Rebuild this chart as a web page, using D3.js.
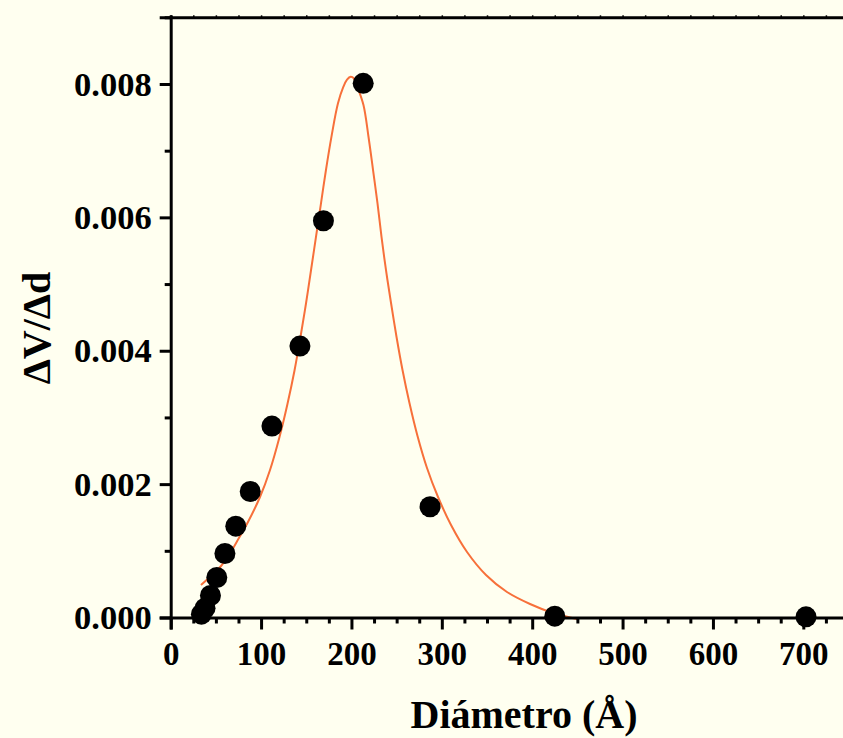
<!DOCTYPE html>
<html>
<head>
<meta charset="utf-8">
<script src="https://cdn.jsdelivr.net/npm/d3@7"></script>
<style>
  html, body { margin: 0; padding: 0; background: #FFFFF0; }
  svg { display: block; }
</style>
</head>
<body>
<svg id="chart" width="843" height="738"></svg>
<script>
// Measured points: diameter (Å) and ΔV/Δd
const diameter = [34, 38, 44, 51, 60, 72, 88, 112, 143, 169, 213, 287, 425, 703];
const dVdd     = [0.00005, 0.00014, 0.00033, 0.0006, 0.00096, 0.00137, 0.00189, 0.00287, 0.00407, 0.00595, 0.00801, 0.00166, 0.00002, 0.00001];

// Fitted curve (diameter in Å, ΔV/Δd in units of 0.001)
const fitX = [33.5, 44.6, 55.7, 64.5, 73.0, 85.5, 98.8, 109.9, 120.4, 129.2, 137.0, 143.6, 149.7, 155.3, 160.8, 166.3, 171.8, 177.9, 185.1, 191.0, 195.1, 199.2, 202.8, 206.5, 213.3, 218.9, 223.9, 228.8, 233.3, 238.2, 243.8, 249.9, 256.5, 264.2, 273.1, 283.6, 295.8, 310.2, 327.9, 348.9, 372.1, 397.6, 423.0, 450.7];
const fitY = [0.487, 0.622, 0.772, 0.937, 1.132, 1.432, 1.807, 2.212, 2.707, 3.201, 3.704, 4.206, 4.708, 5.211, 5.710, 6.211, 6.710, 7.210, 7.710, 7.955, 8.067, 8.109, 8.082, 7.959, 7.685, 7.205, 6.710, 6.215, 5.705, 5.211, 4.716, 4.206, 3.711, 3.216, 2.722, 2.242, 1.807, 1.387, 0.982, 0.637, 0.382, 0.202, 0.067, -0.027];

const xMajor = [0, 100, 200, 300, 400, 500, 600, 700];
const yMajor = [0, 0.002, 0.004, 0.006, 0.008];

const svg = d3.select("#chart");
const x = d3.scaleLinear().domain([0, 750]).range([170.7, 848.5]);
const y = d3.scaleLinear().domain([0, 0.009]).range([617.5, 17.3]);

const FONT = "'Liberation Serif', 'Times New Roman', serif";

// Curve
const line = d3.line().x(d => x(d[0])).y(d => y(d[1] / 1000)).curve(d3.curveCatmullRom.alpha(0.5));
svg.append("path")
  .datum(fitX.map((v, i) => [v, fitY[i]]))
  .attr("d", line)
  .attr("fill", "none")
  .attr("stroke", "#F7703A")
  .attr("stroke-width", 2);

// Points
svg.append("g").selectAll("circle")
  .data(diameter.map((v, i) => [v, dVdd[i]]))
  .join("circle")
  .attr("cx", d => x(d[0]))
  .attr("cy", d => y(d[1]))
  .attr("r", 10.5)
  .attr("fill", "#000");

// X axis (bottom)
const xMinor = d3.range(0, 751, 25).filter(v => v % 100 !== 0);
const gx = svg.append("g").attr("transform", `translate(0,${y(0)})`);
gx.call(d3.axisBottom(x).tickValues(xMinor).tickSize(6).tickFormat(""))
  .call(g => g.select(".domain").remove());
gx.append("g").call(d3.axisBottom(x).tickValues(xMajor).tickSize(12).tickPadding(12).tickFormat(d3.format("d")));
gx.selectAll("line").attr("stroke", "#000").attr("stroke-width", 3);
gx.selectAll(".domain").attr("stroke", "#000").attr("stroke-width", 3);
gx.selectAll("text").attr("font-family", FONT).attr("font-weight", "bold").attr("font-size", 33).attr("fill", "#000");

// Y axis (left)
const yMinor = [0.001, 0.003, 0.005, 0.007, 0.009];
const gy = svg.append("g").attr("transform", `translate(${x(0)},0)`);
gy.call(d3.axisLeft(y).tickValues(yMinor).tickSize(6).tickFormat(""))
  .call(g => g.select(".domain").remove());
gy.append("g").call(d3.axisLeft(y).tickValues(yMajor).tickSize(11).tickPadding(8).tickFormat(d3.format(".3f")));
gy.selectAll("line").attr("stroke", "#000").attr("stroke-width", 3);
gy.selectAll(".domain").attr("stroke", "#000").attr("stroke-width", 3);
gy.selectAll("text").attr("font-family", FONT).attr("font-weight", "bold").attr("font-size", 34.5).attr("fill", "#000");

// Top axis
const gt = svg.append("g").attr("transform", `translate(0,${y(0.009)})`);
gt.call(d3.axisTop(x).tickValues(d3.range(0, 751, 25)).tickSize(2).tickFormat(""));
gt.selectAll("line").attr("stroke", "#000").attr("stroke-width", 1.5);
gt.select(".domain").attr("stroke", "#000").attr("stroke-width", 3);

// Titles
svg.append("text")
  .attr("x", 524).attr("y", 728)
  .attr("text-anchor", "middle")
  .attr("font-family", FONT).attr("font-weight", "bold").attr("font-size", 40)
  .text("Diámetro (Å)");

svg.append("text")
  .attr("transform", "translate(50,328) rotate(-90)")
  .attr("text-anchor", "middle")
  .attr("font-family", FONT).attr("font-weight", "bold").attr("font-size", 40)
  .text("ΔV/Δd");
</script>
</body>
</html>
